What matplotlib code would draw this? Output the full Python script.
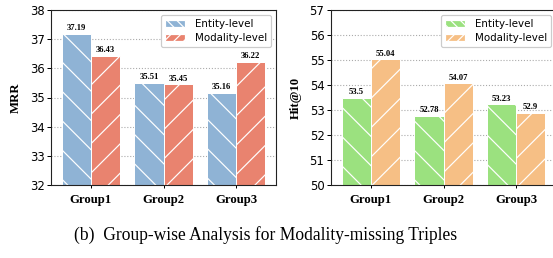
import numpy as np
import matplotlib
matplotlib.use('Agg')
import matplotlib.pyplot as plt
from matplotlib.patches import Patch

# data
groups = ['Group1', 'Group2', 'Group3']
mrr_entity = [37.19, 35.51, 35.16]
mrr_modality = [36.43, 35.45, 36.22]
hit_entity = [53.5, 52.78, 53.23]
hit_modality = [55.04, 54.07, 52.9]
series_names = ['Entity-level', 'Modality-level']

# dpi picked so the hatch spacing matches the reference (~29 px)
DPI = 88
def px(v):
    # pixel size -> points at this dpi
    return v * 72.0 / DPI

plt.rcParams['hatch.color'] = 'white'
plt.rcParams['hatch.linewidth'] = px(1.2)

fig = plt.figure(figsize=(553 / DPI, 258 / DPI), dpi=DPI)
ax1 = fig.add_axes([51 / 553, 1 - 185 / 258, 225 / 553, 175 / 258])
ax2 = fig.add_axes([331 / 553, 1 - 185 / 258, 225 / 553, 175 / 258])

serif = 'Liberation Serif'
sans = 'DejaVu Sans'


def draw_panel(ax, ent, mod, colors, ylim, ylabel):
    index = np.arange(len(groups))
    bar_width = 0.4
    b1 = ax.bar(index - bar_width / 2, ent, bar_width, color=colors[0],
                edgecolor='white', linewidth=px(1), hatch='\\', zorder=2)
    b2 = ax.bar(index + bar_width / 2, mod, bar_width, color=colors[1],
                edgecolor='white', linewidth=px(1), hatch='/', zorder=2)
    for bars, vals in ((b1, ent), (b2, mod)):
        for rect, v in zip(bars, vals):
            ax.annotate(str(v), (rect.get_x() + rect.get_width() / 2, v),
                        xytext=(0, px(1.5)), textcoords='offset points',
                        ha='center', va='bottom', fontsize=px(8.6),
                        fontweight='bold', family=serif, zorder=3)
    ax.set_ylim(*ylim)
    ax.set_xlim(-0.55, 2.55)
    ax.set_yticks(np.arange(ylim[0], ylim[1] + 1))
    ax.set_xticks(index)
    ax.set_xticklabels(groups, fontsize=px(12.8), fontweight='bold', family=serif)
    for lab in ax.get_yticklabels():
        lab.set_fontsize(px(11.6))
        lab.set_family(sans)
    ax.set_ylabel(ylabel, fontsize=px(12.8), fontweight='bold', family=serif,
                  labelpad=px(8))
    ax.tick_params(axis='y', length=px(4), width=px(1), pad=px(2.5))
    ax.tick_params(axis='x', length=px(3), width=px(1), pad=px(5.5))
    ax.yaxis.grid(True, linestyle=':', color='#aaaaaa', linewidth=px(1.1))
    ax.set_axisbelow(True)
    for s in ax.spines.values():
        s.set_linewidth(px(1.1))
        s.set_color('#222222')
    # legend keys carry a finer hatch than the bars
    handles = [Patch(facecolor=colors[0], edgecolor='white', hatch='\\\\\\'),
               Patch(facecolor=colors[1], edgecolor='white', hatch='///')]
    ax.legend(handles, series_names, loc='upper right',
              prop={'family': sans, 'size': px(10.3)},
              borderaxespad=0.5, labelspacing=0.35, handletextpad=0.9,
              frameon=True, fancybox=True, edgecolor='#cccccc',
              framealpha=1.0)


draw_panel(ax1, mrr_entity, mrr_modality, ('#8fb3d5', '#e9836f'), (32, 38), 'MRR')
draw_panel(ax2, hit_entity, hit_modality, ('#9be17f', '#f6bf85'), (50, 57), 'Hit@10')

fig.text(266 / 553, 1 - 235 / 258,
         '(b)  Group-wise Analysis for Modality-missing Triples',
         ha='center', va='center', fontsize=px(17.5), family=serif)

plt.savefig('out.png', dpi=DPI)
